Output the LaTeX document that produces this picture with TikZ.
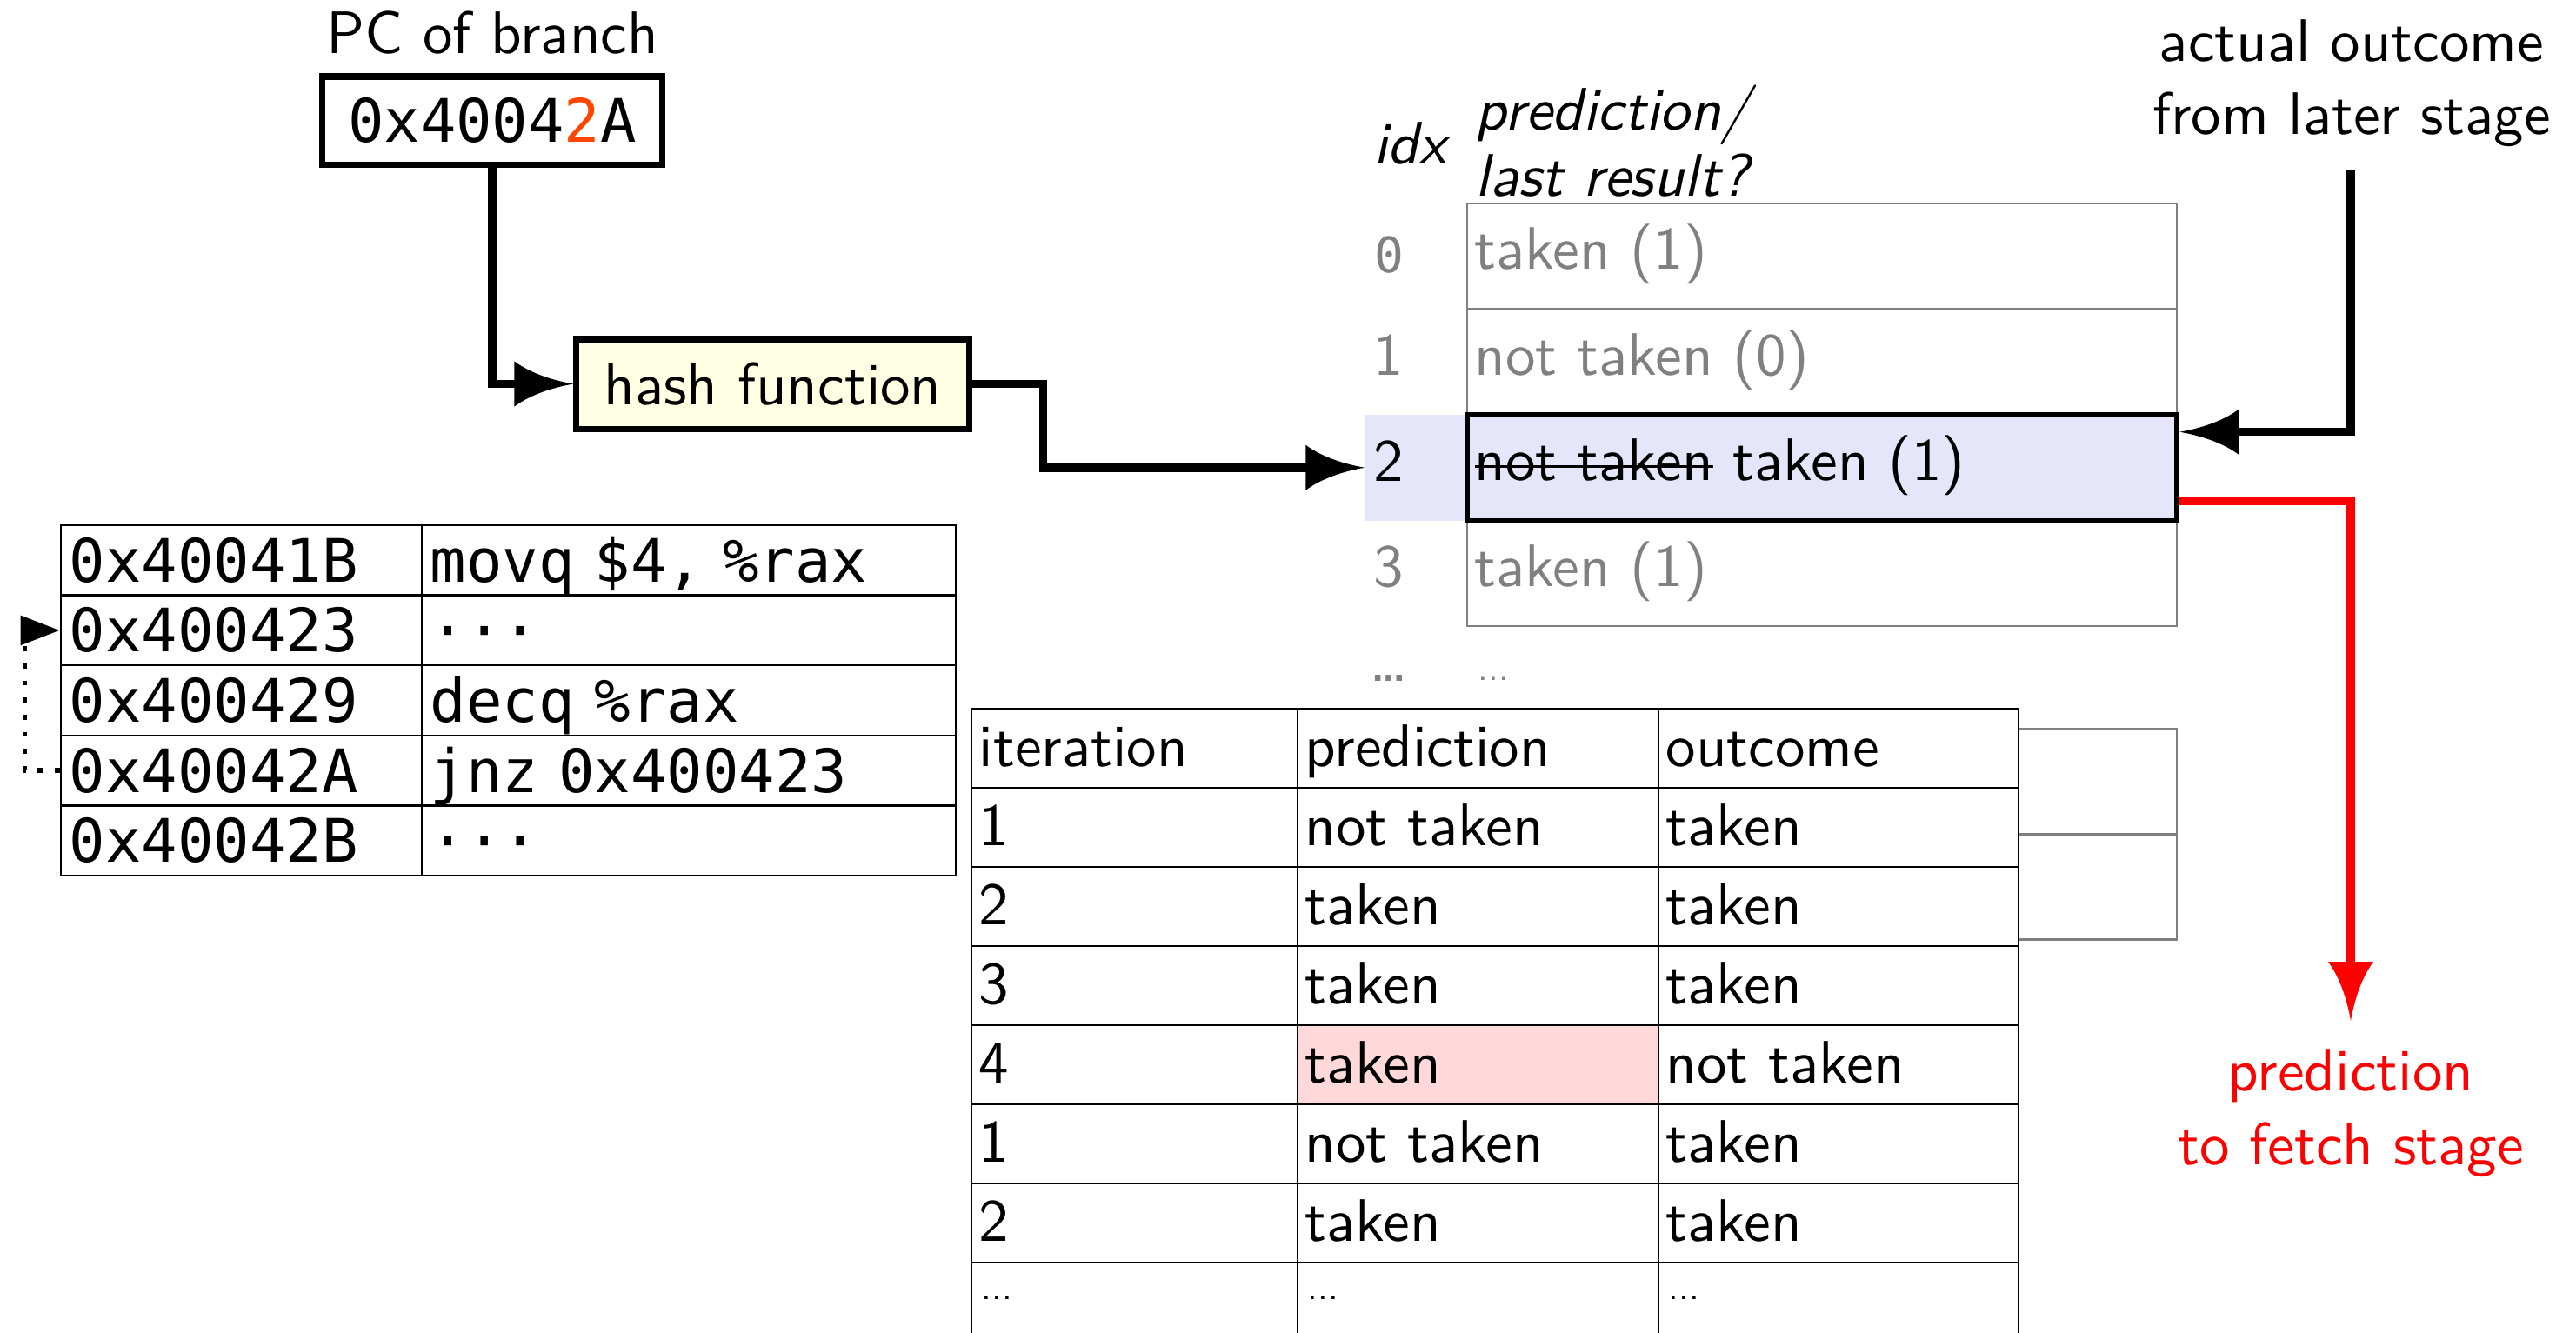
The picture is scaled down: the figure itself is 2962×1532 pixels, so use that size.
\documentclass[tikz,border=0pt]{standalone}
\usepackage{fontspec}
\setsansfont{lmsans10-regular.otf}[
  ItalicFont=lmsans10-oblique.otf,
  BoldFont=lmsans10-bold.otf,
  BoldItalicFont=lmsans10-boldoblique.otf]
\newfontfamily\codefont{DejaVu Sans Mono}
\newfontfamily\roundfont{DejaVu Sans}
\usetikzlibrary{arrows.meta}

\definecolor{hashfill}{RGB}{255,255,228}
\definecolor{rowshade}{RGB}{230,230,250}
\definecolor{misscell}{RGB}{255,217,217}
\definecolor{dimtext}{RGB}{128,128,128}
\definecolor{bitred}{RGB}{255,69,0}
\definecolor{flowred}{RGB}{255,0,0}

\newcommand\bodyfont{\sffamily\fontsize{19.6pt}{23.9pt}\selectfont}
\newcommand\monofont{\codefont\fontsize{19.6pt}{23.9pt}\selectfont}
\newcommand\struckout[1]{\setbox0\hbox{#1}\rlap{\rule[0.21em]{\wd0}{0.85pt}}\box0\relax}
\newcommand\tinydots{{\fontsize{12pt}{13pt}\selectfont...}}
\newcommand\bolddots{{\roundfont\bfseries\fontsize{10.5pt}{12pt}\selectfont\char"2026}}

% filled head with concave flanks
\pgfdeclarearrow{
  name = Flare,
  defaults = {length = +12pt, width = +9pt},
  setup code = {
    \pgfarrowssettipend{\pgfarrowlength}
    \pgfarrowssetlineend{.4\pgfarrowlength}
    \pgfarrowssetbackend{0pt}
    \pgfarrowshullpoint{\pgfarrowlength}{0pt}
    \pgfarrowsupperhullpoint{0pt}{.5\pgfarrowwidth}
    \pgfarrowssavethe\pgfarrowlength
    \pgfarrowssavethe\pgfarrowwidth
  },
  drawing code = {
    \pgfpathmoveto{\pgfqpoint{\pgfarrowlength}{0pt}}
    \pgfpathcurveto
      {\pgfqpoint{.55\pgfarrowlength}{.1\pgfarrowwidth}}
      {\pgfqpoint{.2\pgfarrowlength}{.3\pgfarrowwidth}}
      {\pgfqpoint{0pt}{.5\pgfarrowwidth}}
    \pgfpathlineto{\pgfqpoint{0pt}{-.5\pgfarrowwidth}}
    \pgfpathcurveto
      {\pgfqpoint{.2\pgfarrowlength}{-.3\pgfarrowwidth}}
      {\pgfqpoint{.55\pgfarrowlength}{-.1\pgfarrowwidth}}
      {\pgfqpoint{\pgfarrowlength}{0pt}}
    \pgfpathclose
    \pgfusepathqfill
  },
  parameters = {\the\pgfarrowlength,\the\pgfarrowwidth},
}

\begin{document}
\begin{tikzpicture}[
  x=0.01cm, y=-0.01cm,
  font=\bodyfont,
  caption/.style={inner sep=0pt},
  conn/.style={line width=2.7pt, -{Flare[length=19.3pt,width=14.8pt]}},
  loopback/.style={line width=1.6pt, dash pattern=on 1.6pt off 4pt,
    -{Triangle[length=12.8pt,width=9.4pt]}},
  heavybox/.style={draw, line width=2pt, inner sep=0pt},
  slotrow/.style={draw=dimtext, line width=0.7pt, text=dimtext,
    inner xsep=0.09cm, inner ysep=0pt, text width=7.98cm, align=left,
    minimum height=1.215cm, text height=0.52cm, text depth=0.22cm},
  idxnum/.style={inner sep=0pt, anchor=base, text=dimtext},
  cell/.style={draw, line width=0.7pt, fill=white, align=left,
    inner xsep=0.09cm, inner ysep=0pt, minimum height=0.91cm,
    text height=0.55cm, text depth=0.14cm},
  codecell/.style={draw, line width=0.7pt, align=left, font=\monofont,
    inner xsep=0.1cm, inner ysep=0pt, minimum height=0.806cm,
    text height=0.52cm, text depth=0.02cm},
]
\useasboundingbox (0,0) rectangle (2962,1532);

% --- branch address and hash ---
\node[caption, anchor=base] (pclabel) at (566,61) {PC of branch};
\node[heavybox, minimum width=3.90cm, minimum height=1.01cm] (pc) at (566,138.5)
  {\codefont 0x4004\textcolor{bitred}{2}A};
\node[heavybox, fill=hashfill, minimum width=4.51cm, minimum height=1.03cm] (hash)
  at (888.5,441.5) {hash function};

% --- prediction table ---
\node[caption, anchor=base] (idxhead) at (1621,188) {\itshape idx};
\node[caption, anchor=base west] (predhead) at (1696,149) {\itshape prediction/};
\node[caption, anchor=base west] (lasthead) at (1696,225) {\itshape last result?};

\node[fill=rowshade, inner sep=0pt, minimum width=1.17cm, minimum height=1.215cm]
  (idx2) at (1628.5,537.75) {};

\node[slotrow] (slot0) at (2095,294.75) {taken (1)};
\node[slotrow] (slot1) at (2095,416.25) {not taken (0)};
\node[slotrow] (slot3) at (2095,659.25) {taken (1)};
\node[slotrow, draw=black, line width=1.7pt, fill=rowshade, text=black] (slot2)
  at (2095,537.75) {\struckout{not taken} taken (1)};
\node[slotrow] (slotA) at (2095,898.5) {};
\node[slotrow] (slotB) at (2095,1019.5) {};

\node[idxnum] (n0) at (1597,313) {\codefont\fontsize{16pt}{18pt}\selectfont 0};
\node[idxnum] (n1) at (1597,431.5) {1};
\node[idxnum, text=black] (n2) at (1597,553) {2};
\node[idxnum] (n3) at (1597,674.5) {3};
\node[idxnum] (nmore) at (1597,783) {\bolddots};
\node[caption, anchor=base west, text=dimtext] (slotmore) at (1699,782) {\tinydots};

% --- assembly listing ---
\node[codecell, text width=3.95cm] (code0a) at (277.5,644.3) {0x40041B};
\node[codecell, text width=5.94cm] (code0b) at (792,644.3) {movq \$4, \%rax};
\node[codecell, text width=3.95cm] (code1a) at (277.5,724.9) {0x400423};
\node[codecell, text width=5.94cm] (code1b) at (792,724.9) {\char"00B7\char"00B7\char"00B7};
\node[codecell, text width=3.95cm] (code2a) at (277.5,805.5) {0x400429};
\node[codecell, text width=5.94cm] (code2b) at (792,805.5) {decq \%rax};
\node[codecell, text width=3.95cm] (code3a) at (277.5,886.1) {0x40042A};
\node[codecell, text width=5.94cm] (code3b) at (792,886.1) {jnz 0x400423};
\node[codecell, text width=3.95cm] (code4a) at (277.5,966.7) {0x40042B};
\node[codecell, text width=5.94cm] (code4b) at (792,966.7) {\char"00B7\char"00B7\char"00B7};

\draw[loopback] (code3a.west) -- ++(-40,0) |- (code1a.west);

% --- iteration trace ---
\foreach \r/\ta/\tb/\tc/\tint in {
    0/iteration/prediction/outcome/white,
    1/1/not taken/taken/white,
    2/2/taken/taken/white,
    3/3/taken/taken/white,
    4/4/taken/not taken/misscell,
    5/1/not taken/taken/white,
    6/2/taken/taken/white} {
  \pgfmathsetmacro\yc{860.5+91*\r}
  \node[cell, text width=3.57cm] (it\r-a) at (1304.5,\yc) {\ta};
  \node[cell, text width=3.97cm, fill=\tint] (it\r-b) at (1699.5,\yc) {\tb};
  \node[cell, text width=3.96cm] (it\r-c) at (2114,\yc) {\tc};
}
\node[cell, minimum width=3.75cm] (it7-a) at (1304.5,1497.5) {};
\node[cell, minimum width=4.15cm] (it7-b) at (1699.5,1497.5) {};
\node[cell, minimum width=4.14cm] (it7-c) at (2114,1497.5) {};
\node[caption, anchor=base west] (more-a) at (1128,1494) {\tinydots};
\node[caption, anchor=base west] (more-b) at (1503,1494) {\tinydots};
\node[caption, anchor=base west] (more-c) at (1918,1494) {\tinydots};

% --- connectors ---
\draw[conn] (pc.south) |- (hash.west);
\draw[conn] (hash.east) -- ++(82,0) |- (idx2.west);

\node[caption, anchor=base] (ao1) at (2704,70) {actual outcome};
\node[caption, anchor=base] (ao2) at (2704,154) {from later stage};
\coordinate (outcomesrc) at (2703,196);
\draw[conn] (outcomesrc) |- ([yshift=0.41cm]slot2.east);

\node[caption, anchor=base, text=flowred] (pf1) at (2703,1254) {prediction};
\node[caption, anchor=base, text=flowred] (pf2) at (2703,1339) {to fetch stage};
\coordinate (fetchdst) at (2703,1174);
\draw[conn, color=flowred] ([yshift=-0.38cm]slot2.east) -| (fetchdst);
\end{tikzpicture}
\end{document}
